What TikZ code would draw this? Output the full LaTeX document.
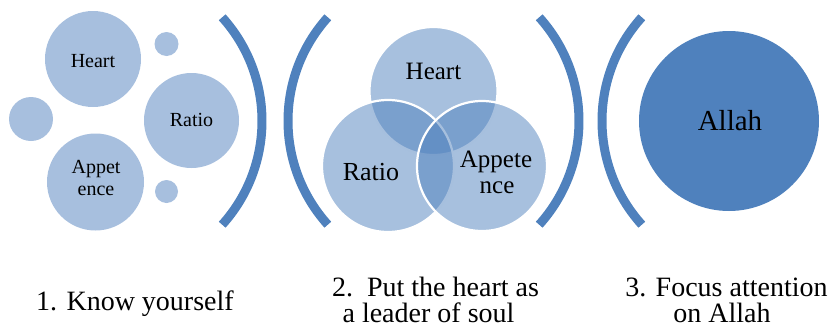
\documentclass[tikz,border=0pt]{standalone}
\usepackage{fontspec}
\newfontfamily\tnrfam{Liberation Serif}
\usetikzlibrary{calc}
\definecolor{accent}{HTML}{4F81BD}
\definecolor{lightacc}{HTML}{A7BFDE}
\begin{document}
\begin{tikzpicture}[x=1pt,y=-1pt,
  bub/.style={circle,fill=lightacc,draw=none,inner sep=0pt,minimum size=#1},
  venn/.style={circle,fill=accent,fill opacity=0.5,draw=white,draw opacity=1,line width=2.2pt,inner sep=0pt,minimum size=#1},
  bigcirc/.style={circle,fill=accent,draw=none,inner sep=0pt,minimum size=#1},
  bracket/.style={draw=accent,line width=9pt},
  lbl/.style={anchor=base,inner sep=0pt,text=black,font=\tnrfam\fontsize{#1}{#1}\selectfont},
]
\useasboundingbox (0,0) rectangle (831,327);

% group 1
\node[bub=96pt] (h1) at (93,59) {};
\node[bub=24pt] (s1) at (166.5,44) {};
\node[bub=44pt] (s2) at (31,119) {};
\node[bub=95pt] (r1) at (191.5,120.5) {};
\node[bub=97pt] (a1) at (95.5,182) {};
\node[bub=23pt] (s3) at (166.5,191.5) {};
\node[lbl=20] (th1) at (93,67) {Heart};
\node[lbl=20] (tr1) at (191.5,126) {Ratio};
\node[lbl=20] (ta1) at (96,173) {Appet};
\node[lbl=20] (ta1b) at (96,195) {ence};

% brackets
\coordinate (c1) at (107,121);
\coordinate (c2) at (443,121);
\coordinate (c3) at (424,121);
\coordinate (c4) at (757,121);
\draw[bracket] ([shift={(-42:155pt)}]c1) arc[start angle=-42,end angle=42,radius=155pt];
\draw[bracket] ([shift={(138:155pt)}]c2) arc[start angle=138,end angle=222,radius=155pt];
\draw[bracket] ([shift={(-42:155pt)}]c3) arc[start angle=-42,end angle=42,radius=155pt];
\draw[bracket] ([shift={(138:155pt)}]c4) arc[start angle=138,end angle=222,radius=155pt];

% group 2 (venn)
\node[venn=128pt] (h2) at (433.5,91) {};
\node[venn=132pt] (r2) at (388,166) {};
\node[venn=130pt] (a2) at (482,166) {};
\node[lbl=25] (th2) at (433.5,79) {Heart};
\node[lbl=26] (tr2) at (371,180) {Ratio};
\node[lbl=25] (ta2) at (496,167) {Appete};
\node[lbl=25] (ta2b) at (497,193) {nce};

% group 3
\node[bigcirc=180pt] (al) at (729,121) {};
\node[lbl=29] (tal) at (730,130) {Allah};

% captions
\node[lbl=28] (cap1) at (135,310) {1. Know yourself};
\node[lbl=28] (cap2a) at (435.5,296) {2.\ \ Put the heart as};
\node[lbl=28] (cap2b) at (428.5,322) {a leader of soul};
\node[lbl=28] (cap3a) at (726.5,296) {3. Focus attention};
\node[lbl=28] (cap3b) at (722,322) {on Allah};
\end{tikzpicture}
\end{document}
